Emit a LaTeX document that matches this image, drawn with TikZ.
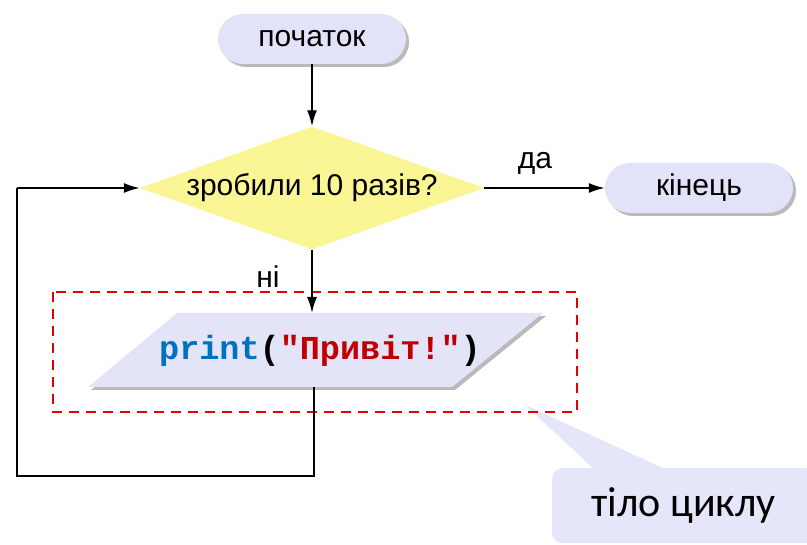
\documentclass[tikz,border=0pt]{standalone}
\usepackage{fontspec}
\setmainfont{Liberation Sans}
\newfontfamily\calloutfont{Carlito}
\newfontfamily\codefont{Liberation Mono}
\usetikzlibrary{shapes.geometric,arrows.meta,shadows,calc}
\definecolor{termfill}{RGB}{226,226,248}
\definecolor{condfill}{RGB}{250,246,150}
\definecolor{outfill}{RGB}{228,228,248}
\definecolor{notefill}{RGB}{230,230,250}
\definecolor{codeblue}{RGB}{0,112,192}
\definecolor{codered}{RGB}{192,0,0}
\definecolor{dashred}{RGB}{228,0,0}
\tikzset{
  myshadow/.style={drop shadow={shadow xshift=3pt,shadow yshift=-3pt,fill=black!60,opacity=.45}},
  term/.style={rectangle,rounded corners=25pt,fill=termfill,minimum width=188pt,minimum height=50pt,inner sep=0pt,myshadow,font=\fontsize{30}{34}\selectfont},
  cond/.style={diamond,fill=condfill,minimum width=344pt,minimum height=123pt,aspect=2.8,inner sep=0pt,font=\fontsize{30}{34}\selectfont},
  pshape/.style={fill=outfill,myshadow},
  lbl/.style={font=\fontsize{30}{34}\selectfont,inner sep=0pt},
  conn/.style={line width=1.8pt,-{Latex[length=16pt,width=10pt]}},
  plain/.style={line width=1.8pt},
  bodybox/.style={draw=dashred,line width=2.6pt,dash pattern=on 10pt off 7pt},
  note/.style={rectangle,rounded corners=10pt,fill=notefill,minimum width=263pt,minimum height=75pt,inner sep=0pt,font=\calloutfont\fontsize{42}{48}\selectfont},
}
\begin{document}
\begin{tikzpicture}[x=1pt,y=-1pt]
\useasboundingbox (0,0) rectangle (807,545);
% nodes
\node[term] (start) at (312,39) {початок};
\node[cond] (cond) at (312,188) {зробили 10 разів?};
\node[term] (stop) at (699,188) {кінець};
% output parallelogram
\path[pshape] (177,313) -- (543,313) -- (452,387) -- (88,387) -- cycle;
\node[inner sep=0pt] (out) at (320,351) {\codefont\bfseries\fontsize{33.5}{38}\selectfont\textcolor{codeblue}{print}(\textcolor{codered}{"Привіт!"})};
\coordinate (ptop) at (312,313);
\coordinate (pbot) at (314,387);
\coordinate (c1) at (314,476);
\coordinate (c2) at (17,476);
\coordinate (c3) at (17,188);
% callout
\node[note,anchor=north west] (note) at (552,468) {\raisebox{-4pt}{тіло циклу}};
\coordinate (tip) at (525,405);
\fill[notefill] (tip) -- ($(note.north west)+(41,0)$) -- ($(note.north west)+(111,0)$) -- cycle;
% dashed loop body box
\draw[bodybox] (53,292) rectangle (577,412);
% labels
\node[lbl] (yes) at (535,163) {да};
\node[lbl] (no) at (268,277) {ні};
% connectors
\draw[conn] (start.south) -- (cond.north);
\draw[conn] (cond.east) -- (stop.west);
\draw[conn] (cond.south) -- (ptop);
\draw[plain] (pbot) -- (c1) -- (c2) -- (c3);
\draw[conn] (c3) -- (cond.west);
\end{tikzpicture}
\end{document}
